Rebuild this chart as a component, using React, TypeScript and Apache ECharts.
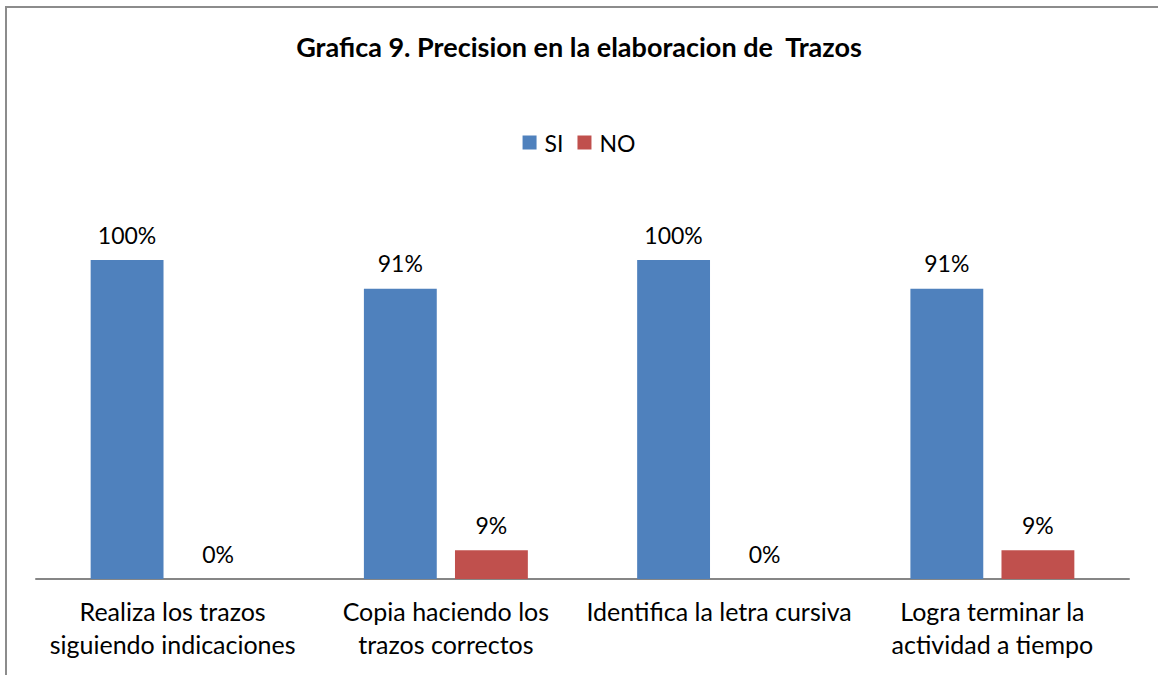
import React, { useEffect, useRef } from "react";
import * as echarts from "echarts";

const categories = [
  "Realiza los trazos\nsiguiendo indicaciones",
  "Copia haciendo los\ntrazos correctos",
  "Identifica la letra cursiva",
  "Logra terminar la\nactividad a tiempo",
];
const siValues = [100, 91, 100, 91];
const noValues = [0, 9, 0, 9];
const titleText = "Grafica 9. Precision en la elaboracion de  Trazos";
const FONT = "Lato, Carlito, Calibri, sans-serif";

export default function App() {
  const ref = useRef<HTMLDivElement>(null);
  useEffect(() => {
    if (!ref.current) return;
    const chart = echarts.init(ref.current, undefined, { renderer: "svg" });
    const label = {
      show: true,
      position: "top" as const,
      distance: 14,
      formatter: "{c}%",
      fontFamily: FONT,
      fontSize: 23,
      color: "#000",
    };
    chart.setOption({
      animation: false,
      backgroundColor: "#fff",
      title: {
        text: titleText,
        left: "center",
        top: 28,
        textStyle: { fontFamily: FONT, fontSize: 27, fontWeight: "bold", color: "#000" },
      },
      legend: {
        top: 126,
        left: "center",
        itemWidth: 14,
        itemHeight: 14,
        itemGap: 14,
        icon: "rect",
        textStyle: { fontFamily: FONT, fontSize: 23, color: "#000", padding: [0, 0, 0, 3] },
        data: ["SI", "NO"],
      },
      grid: { left: 36, right: 29, top: 260, bottom: 96, containLabel: false },
      xAxis: {
        type: "category",
        data: categories,
        axisLine: { lineStyle: { color: "#868686", width: 2 } },
        axisTick: { show: false },
        axisLabel: {
          interval: 0,
          fontFamily: FONT,
          fontSize: 25,
          color: "#000",
          lineHeight: 33,
          margin: 15,
        },
      },
      yAxis: {
        type: "value",
        min: 0,
        max: 100,
        show: false,
        splitLine: { show: false },
      },
      graphic: [
        {
          type: "rect",
          shape: { x: 6, y: 7, width: 1300, height: 800 },
          style: { fill: "none", stroke: "#8c8c8c", lineWidth: 2 },
          silent: true,
        },
      ],
      series: [
        {
          name: "SI",
          type: "bar",
          data: siValues,
          itemStyle: { color: "#4F81BD" },
          barGap: "25%",
          barCategoryGap: "40%",
          label,
        },
        {
          name: "NO",
          type: "bar",
          data: noValues,
          itemStyle: { color: "#C0504D" },
          label,
        },
      ],
    });
    return () => chart.dispose();
  }, []);
  return (
    <div
      ref={ref}
      style={{ position: "absolute", left: 0, top: 0, width: 1158, height: 675 }}
    />
  );
}
